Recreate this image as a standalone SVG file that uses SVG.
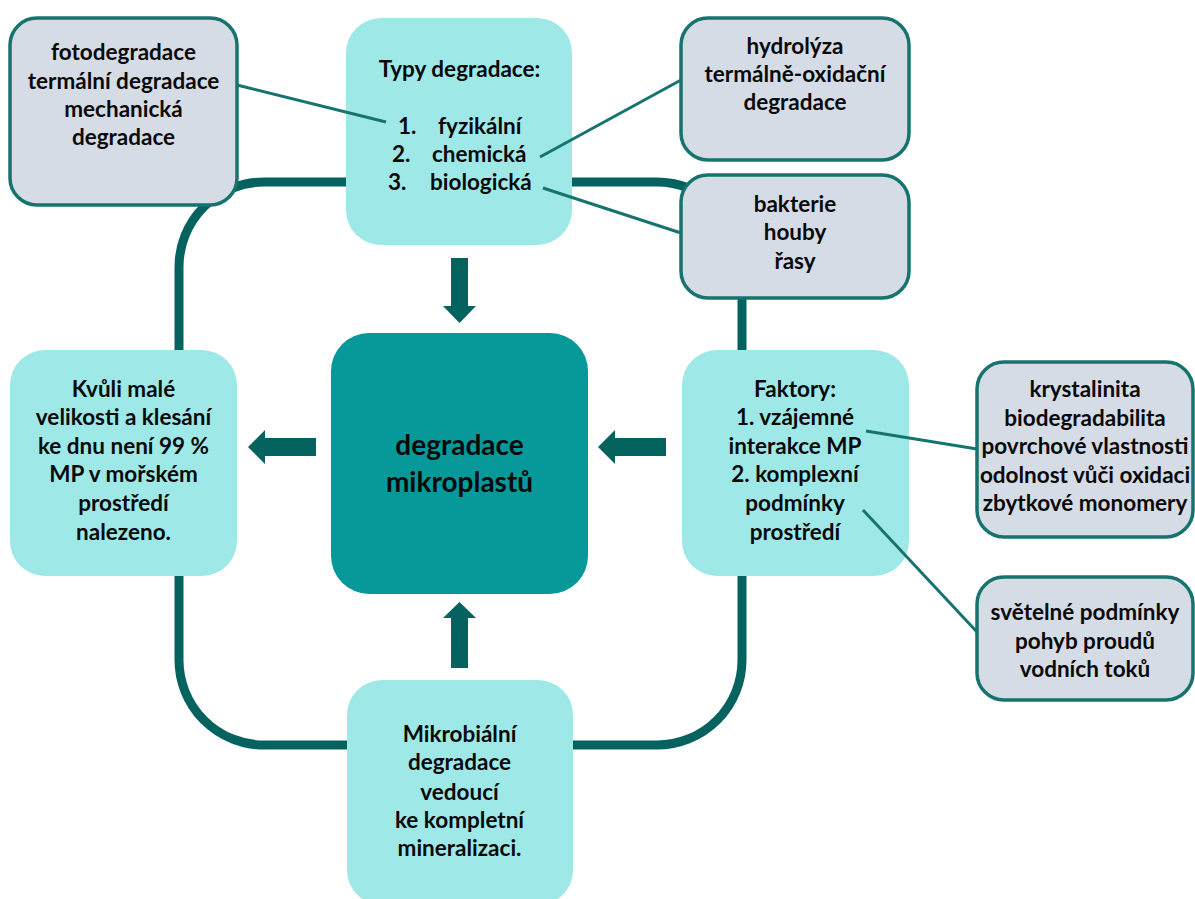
<svg xmlns="http://www.w3.org/2000/svg" width="1195" height="899" viewBox="0 0 1195 899">
<style>
.cy{fill:#9fe8e8;}
.gr{fill:#d6dce5;stroke:#16736d;stroke-width:3.5;}
.ct{fill:#07999a;}
.t{font-family:Lato,"Liberation Sans",sans-serif;font-weight:700;font-size:22.5px;fill:#0a0a0a;text-anchor:middle;}
.tl{font-family:Lato,"Liberation Sans",sans-serif;font-weight:700;font-size:22.5px;fill:#0a0a0a;}
.big{font-family:Lato,"Liberation Sans",sans-serif;font-weight:700;font-size:28px;fill:#0a0a0a;text-anchor:middle;}
.ln{stroke:#16736d;stroke-width:3;fill:none;}
.ar{fill:#04635f;}
</style>
<rect id="loop" x="179" y="182" width="563" height="563" rx="85" ry="85" fill="none" stroke="#04635f" stroke-width="9"/>
<g id="typy">
<rect class="cy" x="346" y="18" width="226" height="227" rx="35"/>
<text class="t" x="459.5" y="77">Typy degradace:</text>
<text class="tl" y="134"><tspan x="398">1.</tspan><tspan x="438">fyzikální</tspan></text>
<text class="tl" y="162"><tspan x="392">2.</tspan><tspan x="432">chemická</tspan></text>
<text class="tl" y="190"><tspan x="388">3.</tspan><tspan x="430">biologická</tspan></text>
</g>
<g id="fyz">
<rect class="gr" x="10" y="18" width="227" height="187" rx="27"/>
<text class="t" x="123.5" y="60">fotodegradace</text>
<text class="t" x="123.5" y="89">termální degradace</text>
<text class="t" x="123.5" y="117">mechanická</text>
<text class="t" x="123.5" y="145">degradace</text>
</g>
<g id="chem">
<rect class="gr" x="681" y="18" width="228" height="142" rx="27"/>
<text class="t" x="795" y="54">hydrolýza</text>
<text class="t" x="795" y="82">termálně-oxidační</text>
<text class="t" x="795" y="110">degradace</text>
</g>
<g id="bio">
<rect class="gr" x="681" y="175" width="228" height="123" rx="27"/>
<text class="t" x="795" y="212">bakterie</text>
<text class="t" x="795" y="240">houby</text>
<text class="t" x="795" y="269">řasy</text>
</g>
<g id="kvuli">
<rect class="cy" x="10" y="350" width="227" height="226" rx="35"/>
<text class="t" x="123.5" y="397">Kvůli malé</text>
<text class="t" x="123.5" y="425">velikosti a klesání</text>
<text class="t" x="123.5" y="454">ke dnu není 99 %</text>
<text class="t" x="123.5" y="482">MP v mořském</text>
<text class="t" x="123.5" y="511">prostředí</text>
<text class="t" x="123.5" y="540">nalezeno.</text>
</g>
<g id="center">
<rect class="ct" x="331" y="333" width="257" height="261" rx="38"/>
<text class="big" x="459.5" y="455">degradace</text>
<text class="big" x="459.5" y="492">mikroplastů</text>
</g>
<g id="faktory">
<rect class="cy" x="682" y="350" width="227" height="226" rx="35"/>
<text class="t" x="795" y="397">Faktory:</text>
<text class="t" x="795" y="425">1. vzájemné</text>
<text class="t" x="795" y="454">interakce MP</text>
<text class="t" x="795" y="482">2. komplexní</text>
<text class="t" x="795" y="511">podmínky</text>
<text class="t" x="795" y="540">prostředí</text>
</g>
<g id="vlastnosti">
<rect class="gr" x="977" y="362" width="216" height="175" rx="27"/>
<text class="t" x="1085" y="397">krystalinita</text>
<text class="t" x="1085" y="426">biodegradabilita</text>
<text class="t" x="1085" y="454">povrchové vlastnosti</text>
<text class="t" x="1085" y="483">odolnost vůči oxidaci</text>
<text class="t" x="1085" y="511">zbytkové monomery</text>
</g>
<g id="podminky">
<rect class="gr" x="977" y="577" width="216" height="123" rx="27"/>
<text class="t" x="1085" y="620">světelné podmínky</text>
<text class="t" x="1085" y="649">pohyb proudů</text>
<text class="t" x="1085" y="677">vodních toků</text>
</g>
<g id="mikrob">
<rect class="cy" x="347" y="680" width="226" height="225" rx="35"/>
<text class="t" x="459.5" y="742">Mikrobiální</text>
<text class="t" x="459.5" y="770">degradace</text>
<text class="t" x="459.5" y="800">vedoucí</text>
<text class="t" x="459.5" y="828">ke kompletní</text>
<text class="t" x="459.5" y="856">mineralizaci.</text>
</g>
<g id="connectors">
<line class="ln" x1="237" y1="85" x2="386" y2="122"/>
<line class="ln" x1="540" y1="157" x2="681" y2="80"/>
<line class="ln" x1="543" y1="188" x2="681" y2="233"/>
<line class="ln" x1="866" y1="431" x2="977" y2="449"/>
<line class="ln" x1="863" y1="510" x2="977" y2="632"/>
<polygon class="ar" points="248,447 265,430 265,438 316,438 316,456 265,456 265,464"/>
<polygon class="ar" points="598,447 615,430 615,438 666,438 666,456 615,456 615,464"/>
<polygon class="ar" points="451,258 468,258 468,306 476,306 459.5,323 443,306 451,306"/>
<polygon class="ar" points="459.5,602 476,618 468,618 468,668 451,668 451,618 443,618"/>
</g>
</svg>
